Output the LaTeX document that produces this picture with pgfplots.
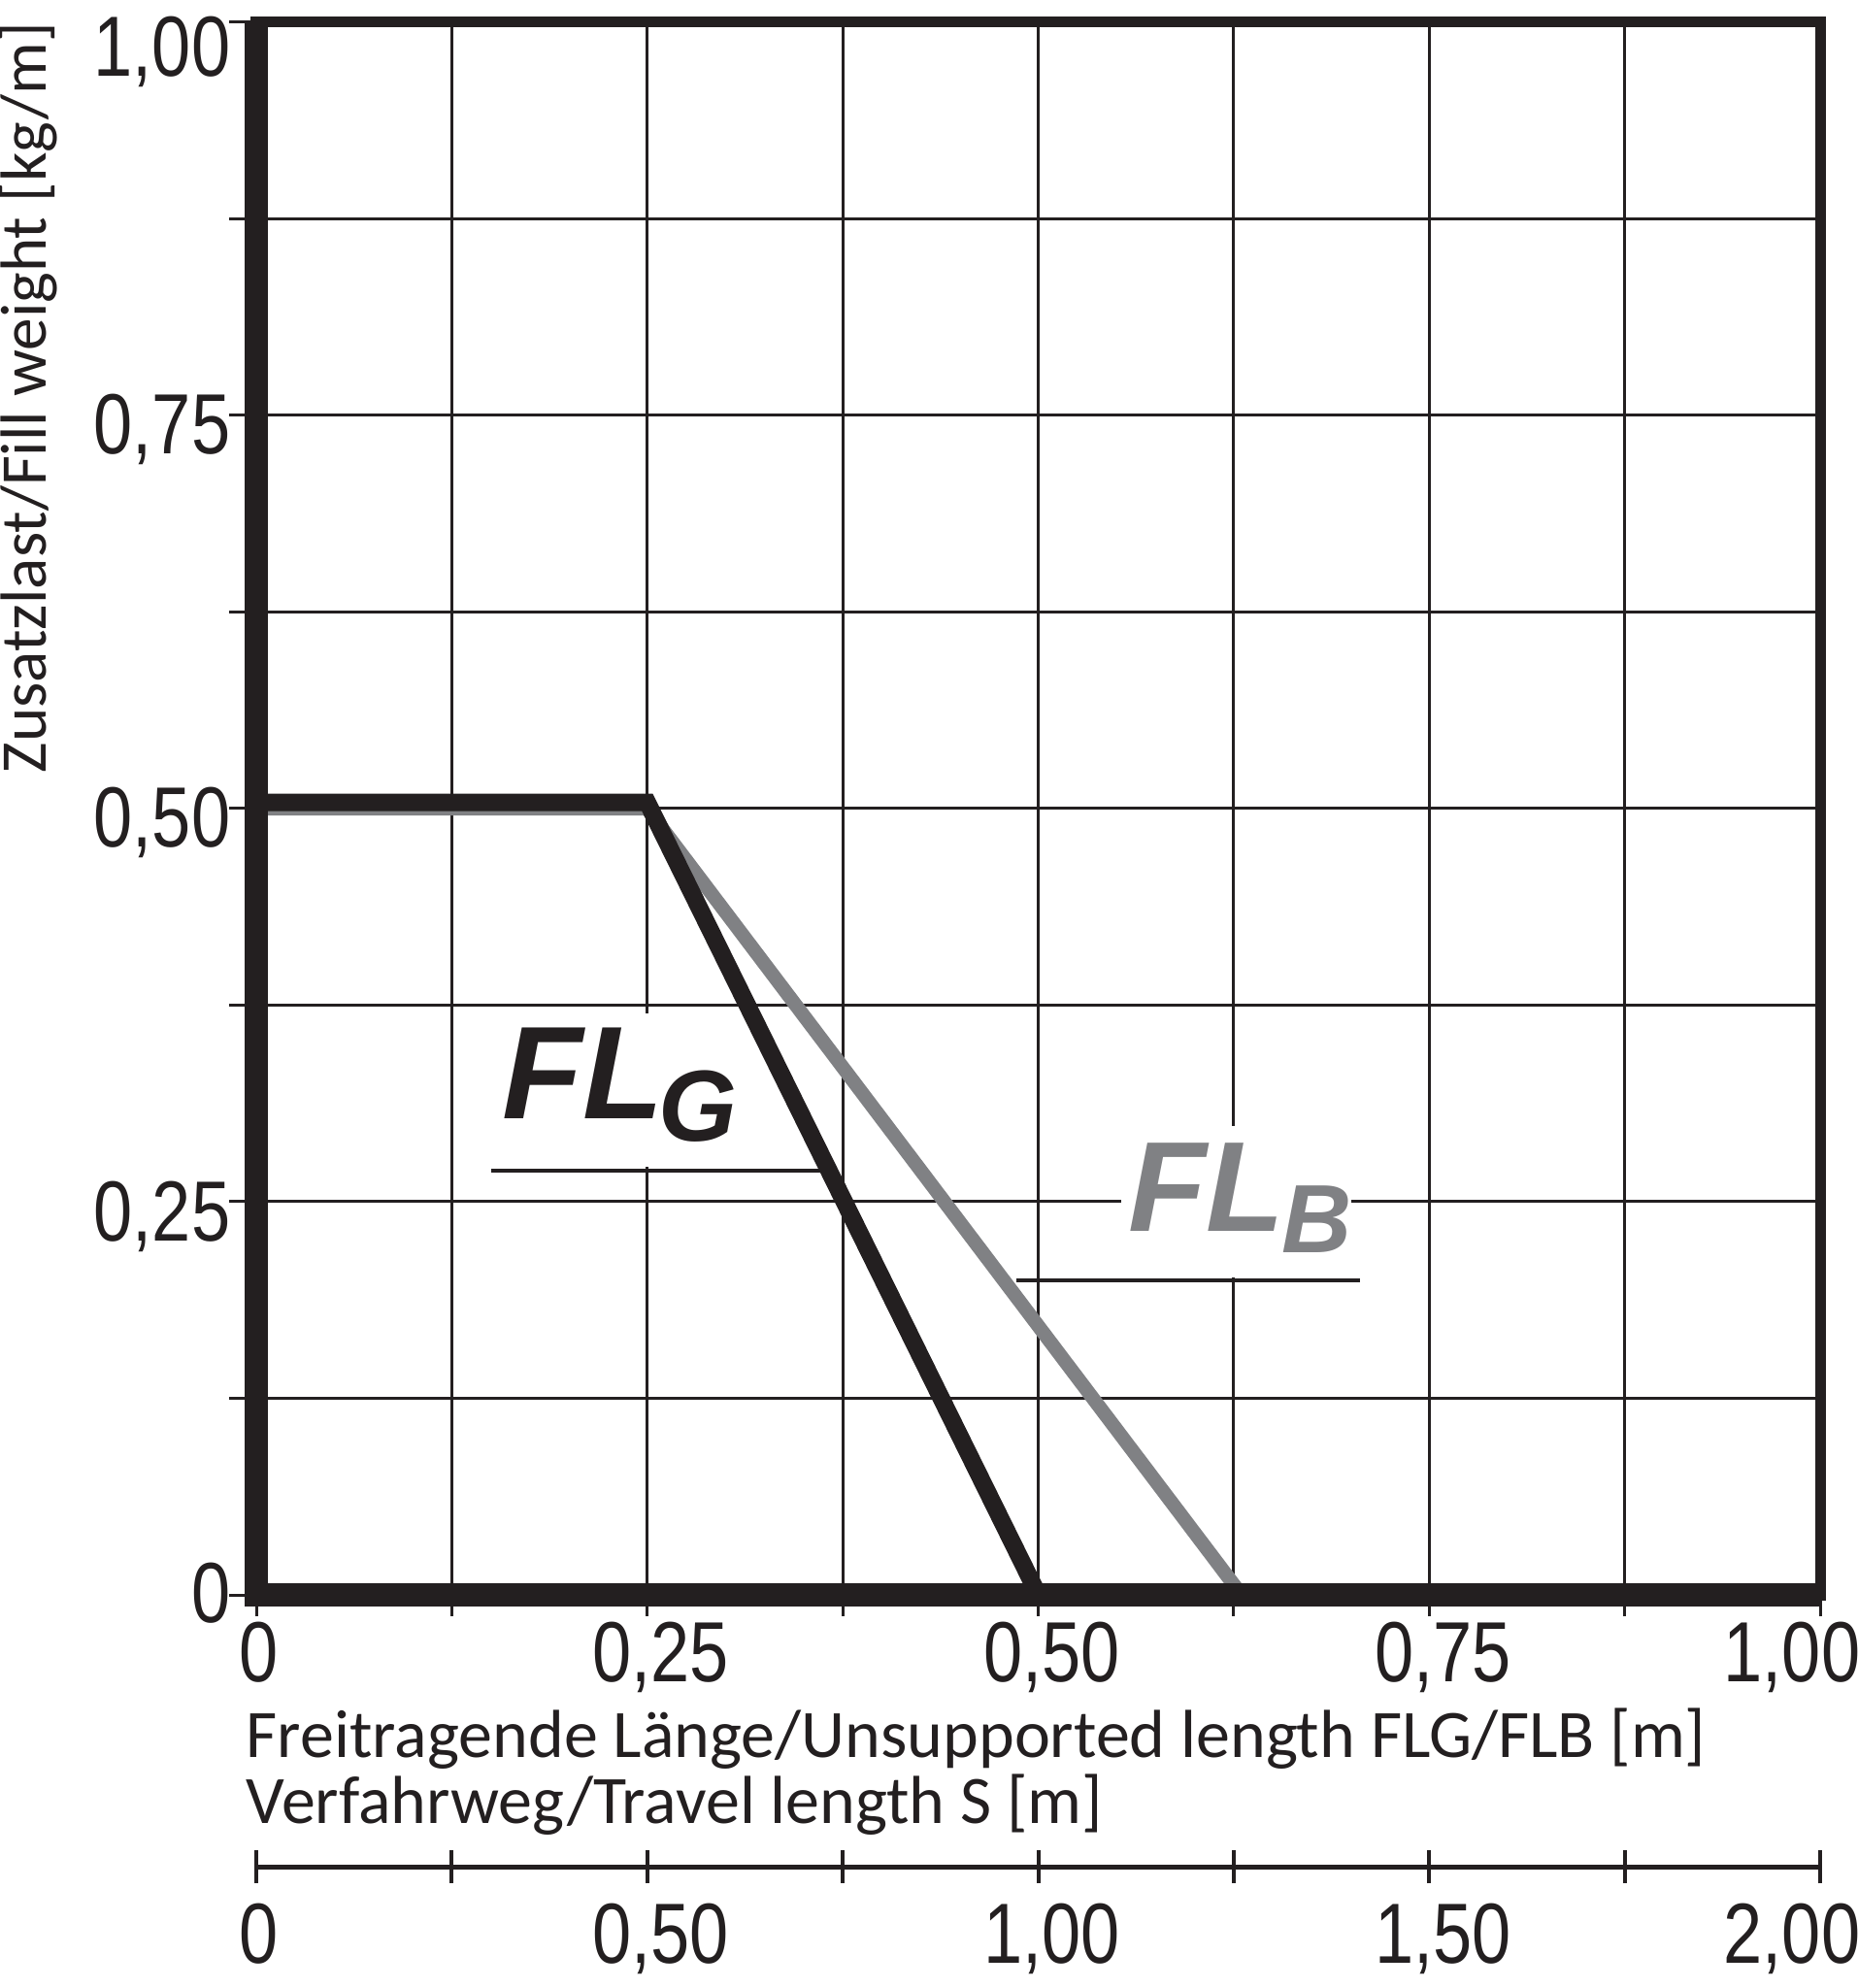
\documentclass[border=0pt]{standalone}
\usepackage{fontspec}
\setmainfont{Liberation Sans}
\newfontfamily\tickfont[FakeStretch=0.82]{Liberation Sans}
\newfontfamily\flfont{Liberation Sans}
\newfontfamily\labfont{Carlito}
\usepackage{pgfplots}
\pgfplotsset{compat=1.18}
\definecolor{ink}{RGB}{35,31,32}
\definecolor{flgray}{RGB}{128,129,132}

\begin{document}
\begin{tikzpicture}
\useasboundingbox (-66bp,-101.25bp) rectangle (412.5bp,410.75bp);
% main chart
\begin{axis}[
  at={(0,0)}, anchor=south west,
  scale only axis, width=402.75bp, height=405bp,
  xmin=0, xmax=1, ymin=0, ymax=1,
  clip=false,
  xtick={0,0.25,0.5,0.75,1},
  xticklabels={0\hspace*{5.5bp},{0,25},{0,50},{0,75},{1,00\hspace*{21.5bp}}},
  minor xtick={0.125,0.375,0.625,0.875},
  ytick={0,0.25,0.5,0.75,1},
  yticklabels={\raisebox{3bp}{0},{0,25},{0,50},{0,75},\raisebox{-4bp}{1,00}},
  minor ytick={0.125,0.375,0.625,0.875},
  grid=both,
  major grid style={ink, line width=0.75bp},
  minor grid style={ink, line width=0.75bp},
  tick pos=left, tick align=outside,
  tick style={ink, line width=0.75bp},
  xtick style={/pgfplots/major tick length=5.5bp, /pgfplots/minor tick length=5.5bp},
  ytick style={/pgfplots/major tick length=7bp, /pgfplots/minor tick length=7bp},
  axis line style={ink, line width=2.75bp},
  ticklabel style={font=\tickfont\fontsize{22bp}{22bp}\selectfont, text=ink, inner sep=0pt},
  xticklabel style={anchor=north, xshift=3.5bp, yshift=-2.5bp},
  yticklabel style={anchor=base east, xshift=-2.25bp, yshift=-10bp},
]
% label boxes and names
\fill[white] (axis cs:0.150,0.272) rectangle (axis cs:0.362,0.370);
\node[anchor=base west, inner sep=0pt, text=ink,
  font=\flfont\bfseries\itshape\fontsize{34bp}{34bp}\selectfont] at (axis cs:0.157,0.3027) {FL};
\node[anchor=base west, inner sep=0pt, text=ink,
  font=\flfont\bfseries\itshape\fontsize{26bp}{26bp}\selectfont] at (axis cs:0.257,0.2885) {G};
\draw[ink, line width=1bp] (axis cs:0.150,0.270) -- (axis cs:0.363,0.270);

\fill[white] (axis cs:0.553,0.202) rectangle (axis cs:0.700,0.298);
\node[anchor=base west, inner sep=0pt, text=flgray,
  font=\flfont\bfseries\itshape\fontsize{33bp}{33bp}\selectfont] at (axis cs:0.557,0.231) {FL};
\node[anchor=base west, inner sep=0pt, text=flgray,
  font=\flfont\bfseries\itshape\fontsize{25bp}{25bp}\selectfont] at (axis cs:0.655,0.2176) {B};
\draw[ink, line width=1bp] (axis cs:0.486,0.1998) -- (axis cs:0.7055,0.1998);

% curves
\addplot[flgray, line width=3.6bp] coordinates {(0,0.5) (0.25,0.5) (0.63,0)};
\addplot[ink, line width=4.5bp] coordinates {(0,0.504) (0.25,0.504) (0.5,0)};

% heavy left and bottom frame
\draw[ink, line width=6bp, line join=miter] (rel axis cs:0,1) -- (rel axis cs:0,0) -- (rel axis cs:1,0);

% axis titles
\node[anchor=base west, inner sep=0pt, text=ink, font=\labfont\fontsize{17.5bp}{17.5bp}\selectfont]
  at ([xshift=-2.75bp,yshift=-41.75bp]rel axis cs:0,0) {Freitragende Länge/Unsupported length FLG/FLB [m]};
\node[anchor=base west, inner sep=0pt, text=ink, font=\labfont\fontsize{17.5bp}{17.5bp}\selectfont]
  at ([xshift=-2.75bp,yshift=-58.75bp]rel axis cs:0,0) {Verfahrweg/Travel length S [m]};
\node[rotate=90, anchor=base east, inner sep=0pt, text=ink, font=\labfont\fontsize{16.8bp}{16.8bp}\selectfont]
  at ([xshift=-54bp,yshift=0.25bp]rel axis cs:0,1) {Zusatzlast/Fill weight [kg/m]};
\end{axis}

% travel length scale
\begin{axis}[
  at={(0,-70bp)}, anchor=west,
  scale only axis, width=402.75bp, height=10bp,
  xmin=0, xmax=2, ymin=-1, ymax=1,
  axis x line=middle, axis y line=none,
  hide obscured x ticks=false,
  axis line style={ink, line width=1.25bp, -},
  xtick={0,0.5,1,1.5,2},
  xticklabels={0\hspace*{5.5bp},{0,50},{1,00},{1,50},{2,00\hspace*{21.5bp}}},
  minor xtick={0.25,0.75,1.25,1.75},
  tick align=center, major tick length=8.5bp, minor tick length=8.5bp,
  tick style={ink, line width=1bp},
  extra x ticks={2}, extra x tick labels={},
  extra x tick style={line width=2bp},
  ticklabel style={font=\tickfont\fontsize{22bp}{22bp}\selectfont, text=ink, inner sep=0pt},
  xticklabel style={anchor=north, xshift=3.5bp, yshift=-5bp},
]
\addplot[draw=none] coordinates {(0,0) (2,0)};
\end{axis}
\end{tikzpicture}
\end{document}
